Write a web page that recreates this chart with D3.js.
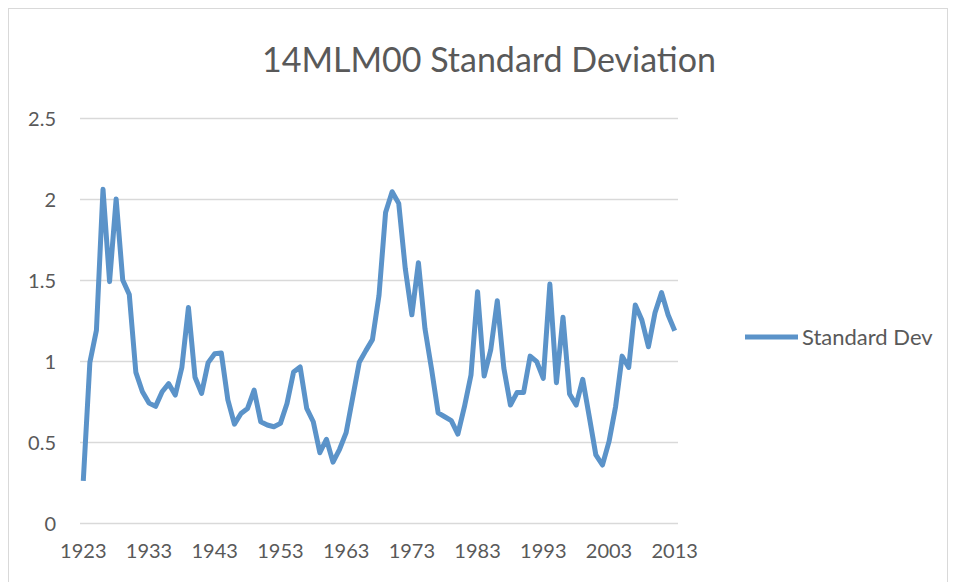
<!DOCTYPE html>
<html>
<head>
<meta charset="utf-8">
<script src="https://cdn.jsdelivr.net/npm/d3@7/dist/d3.min.js"></script>
<style>
html,body{margin:0;padding:0;background:#fff;}
svg{display:block;}
text{font-family:Lato,"Open Sans",sans-serif;fill:#595959;}
</style>
</head>
<body>
<svg id="chart" width="956" height="582"></svg>
<script>
const title = "14MLM00 Standard Deviation";
const seriesName = "Standard Dev";
const years = d3.range(1923, 2014);
const values = [
  0.26, 0.99, 1.19, 2.06, 1.49, 2.00, 1.50, 1.41, 0.93, 0.81,
  0.74, 0.72, 0.81, 0.86, 0.79, 0.96, 1.33, 0.90, 0.80, 0.99,
  1.045, 1.05, 0.76, 0.61, 0.676, 0.707, 0.82, 0.625, 0.605, 0.594,
  0.615, 0.738, 0.932, 0.963, 0.707, 0.625, 0.434, 0.517, 0.376, 0.455,
  0.558, 0.775, 0.992, 1.064, 1.132, 1.405, 1.917, 2.045, 1.973, 1.57,
  1.285, 1.607, 1.198, 0.95, 0.68, 0.656, 0.632, 0.549, 0.718, 0.914,
  1.428, 0.907, 1.068, 1.372, 0.955, 0.728, 0.805, 0.805, 1.03, 0.996,
  0.893, 1.475, 0.866, 1.27, 0.796, 0.728, 0.887, 0.656, 0.42, 0.358,
  0.502, 0.718, 1.03, 0.96, 1.346, 1.253, 1.088, 1.298, 1.422, 1.284,
  1.187
];
const yTicks = [0, 0.5, 1, 1.5, 2, 2.5];
const xTickYears = d3.range(1923, 2014, 10);

const svg = d3.select("#chart");
const plot = {left: 80, right: 678, top: 118, bottom: 523};

// outer border
svg.append("rect").attr("x", 8.5).attr("y", 8.5).attr("width", 939).attr("height", 600)
  .attr("fill", "none").attr("stroke", "#d9d9d9").attr("stroke-width", 1);

const x = d3.scaleBand().domain(years).range([plot.left, plot.right]);
const y = d3.scaleLinear().domain([0, 2.5]).range([plot.bottom, plot.top]);
const cx = d => x(d) + x.bandwidth() / 2;

// gridlines
svg.append("g").selectAll("line").data(yTicks).join("line")
  .attr("x1", plot.left).attr("x2", plot.right)
  .attr("y1", d => Math.round(y(d)) + 0.5).attr("y2", d => Math.round(y(d)) + 0.5)
  .attr("stroke", "#d9d9d9").attr("stroke-width", 1.3);

// y axis labels
const yAxis = d3.axisLeft(y).tickValues(yTicks).tickSize(0).tickPadding(0)
  .tickFormat(d => String(d));
const gy = svg.append("g").attr("transform", `translate(56,0)`).call(yAxis);
gy.select(".domain").remove();
gy.selectAll("text").style("font-size", "20px").attr("fill", "#595959")
  .style("font-family", "Lato,'Open Sans',sans-serif").attr("dy", "0.35em");

// x axis labels
const xAxis = d3.axisBottom(x).tickValues(xTickYears).tickSize(0).tickPadding(0);
const gx = svg.append("g").attr("transform", `translate(0,${plot.bottom + 21})`).call(xAxis);
gx.select(".domain").remove();
gx.selectAll("text").style("font-size", "20px").attr("fill", "#595959")
  .style("font-family", "Lato,'Open Sans',sans-serif").attr("dy", "0.7em");

// line
const line = d3.line().x((d, i) => cx(years[i])).y(d => y(d));
svg.append("path").datum(values).attr("d", line)
  .attr("fill", "none").attr("stroke", "#5b93c9").attr("stroke-width", 5)
  .attr("stroke-linejoin", "round").attr("stroke-linecap", "butt");

// title
svg.append("text").attr("x", 489).attr("y", 72).attr("text-anchor", "middle")
  .style("font-size", "34px").text(title);

// legend
svg.append("line").attr("x1", 745).attr("x2", 798).attr("y1", 337).attr("y2", 337)
  .attr("stroke", "#5b93c9").attr("stroke-width", 5);
svg.append("text").attr("x", 802).attr("y", 337).attr("dy", "0.35em")
  .style("font-size", "22px").text(seriesName);
</script>
</body>
</html>
